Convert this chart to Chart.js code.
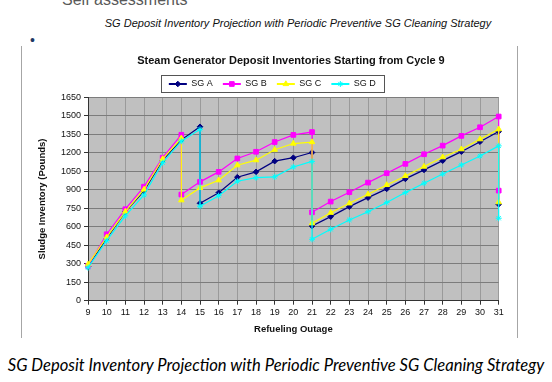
<html>
  <head>
    <script src="https://cdnjs.cloudflare.com/ajax/libs/Chart.js/4.4.0/chart.umd.min.js"></script>
  </head>
  <body>
    <div id="top-text">Self assessments</div>
    <div id="subtitle">SG Deposit Inventory Projection with Periodic Preventive SG Cleaning Strategy</div>
    <div id="bullet">&#8226;</div>
    <div id="frame">
      <canvas id="chart" width="495" height="292"></canvas>
      <div id="chart-title">Steam Generator Deposit Inventories Starting from Cycle 9</div>
    </div>
    <div id="caption">SG Deposit Inventory Projection with Periodic Preventive SG Cleaning Strategy</div>
    <script>
      // refueling outages; a repeated outage is the drop after a cleaning
      const outagesAD = [9, 10, 11, 12, 13, 14, 15, 15, 16, 17, 18, 19, 20, 21, 21, 22, 23, 24, 25, 26, 27, 28, 29, 30, 31, 31];
      const outagesBC = [9, 10, 11, 12, 13, 14, 14, 15, 16, 17, 18, 19, 20, 21, 21, 22, 23, 24, 25, 26, 27, 28, 29, 30, 31, 31];

      const sgA = [278, 505, 720, 890, 1140, 1305, 1411, 790, 876, 1002, 1045, 1132, 1160, 1202, 606, 682, 763, 836, 907, 988, 1061, 1136, 1209, 1290, 1372, 782];
      const sgB = [282, 539, 742, 925, 1160, 1346, 861, 964, 1045, 1154, 1208, 1287, 1345, 1368, 717, 804, 880, 958, 1034, 1110, 1188, 1258, 1337, 1407, 1494, 893];
      const sgC = [295, 515, 723, 902, 1150, 1318, 815, 915, 977, 1099, 1140, 1225, 1275, 1287, 628, 714, 790, 863, 939, 1012, 1088, 1164, 1229, 1310, 1391, 799];
      const sgD = [268, 487, 688, 858, 1120, 1294, 1390, 766, 852, 969, 998, 1005, 1085, 1130, 498, 579, 655, 722, 796, 877, 953, 1028, 1101, 1174, 1256, 669];

      const LEGEND_SHIFT = 12;

      function points(xs, ys) {
        return xs.map(function(x, i) {
          return {x: x, y: ys[i]};
        });
      }

      const plotBackground = {
        id: 'plotBackground',
        beforeDraw(chart) {
          const a = chart.chartArea;
          const ctx = chart.ctx;
          ctx.save();
          ctx.fillStyle = '#c0c0c0';
          ctx.fillRect(a.left, a.top, a.right - a.left, a.bottom - a.top);
          ctx.restore();
        }
      };

      // excel-style legend: nudged right, frame round the items, marker on each line
      const legendFrame = {
        id: 'legendFrame',
        afterUpdate(chart) {
          const lg = chart.legend;
          lg.left += LEGEND_SHIFT;
          lg.right += LEGEND_SHIFT;
          lg.legendHitBoxes.forEach(function(b) { b.left += LEGEND_SHIFT; });
        },
        afterDraw(chart) {
          const boxes = chart.legend.legendHitBoxes;
          const items = chart.legend.legendItems;
          const ctx = chart.ctx;
          const left = Math.min.apply(null, boxes.map(b => b.left)) - 8;
          const right = Math.max.apply(null, boxes.map(b => b.left + b.width)) + 8;
          ctx.save();
          ctx.strokeStyle = '#555';
          ctx.lineWidth = 1;
          ctx.strokeRect(Math.round(left) + 0.5, 29.5, Math.round(right - left), 17);
          if (Chart.helpers && Chart.helpers.drawPoint) {
            boxes.forEach(function(b, i) {
              const ds = chart.data.datasets[items[i].datasetIndex];
              ctx.fillStyle = ds.backgroundColor;
              ctx.strokeStyle = ds.borderColor;
              ctx.lineWidth = 1;
              Chart.helpers.drawPoint(ctx, {pointStyle: ds.pointStyle, radius: ds.pointRadius, borderWidth: 1, rotation: 0},
                b.left + 9, b.top + b.height / 2);
            });
          }
          ctx.restore();
        }
      };

      Chart.defaults.font.family = "'Liberation Sans', Arial, sans-serif";
      Chart.defaults.font.size = 9;
      Chart.defaults.color = '#111';

      function series(label, data, color, style, radius, order) {
        return {
          label: label,
          data: data,
          order: order,
          clip: false,
          borderColor: color,
          backgroundColor: color,
          borderWidth: 1.2,
          pointStyle: style,
          pointRadius: radius,
          pointBorderWidth: 1,
          tension: 0,
          fill: false
        };
      }

      new Chart('chart', {
        type: 'line',
        data: {
          datasets: [
            series('SG A', points(outagesAD, sgA), '#000080', 'rectRot', 2.8, 4),
            series('SG B', points(outagesBC, sgB), '#ff00ff', 'rect', 3.3, 3),
            series('SG C', points(outagesBC, sgC), '#ffff00', 'triangle', 3.2, 2),
            series('SG D', points(outagesAD, sgD), '#00ffff', 'star', 3, 1)
          ]
        },
        options: {
          responsive: false,
          animation: false,
          layout: {padding: {top: 23.5, right: 18.3, bottom: 0, left: 0}},
          plugins: {
            tooltip: {enabled: false},
            legend: {
              position: 'top',
              maxHeight: 27.8,
              labels: {
                boxWidth: 18,
                boxHeight: 2,
                padding: 10,
                color: '#111',
                font: {size: 9},
                sort: function(a, b) { return a.datasetIndex - b.datasetIndex; },
                generateLabels(chart) {
                  return Chart.defaults.plugins.legend.labels.generateLabels(chart).map(function(l) {
                    l.lineWidth = 0;
                    return l;
                  });
                }
              }
            }
          },
          scales: {
            x: {
              type: 'linear',
              min: 9,
              max: 31,
              afterFit(scale) { scale.height = 37.3; },
              ticks: {stepSize: 1, autoSkip: false, maxRotation: 0, padding: 2},
              grid: {color: '#9a9a9a', tickLength: 4, tickColor: '#333'},
              border: {color: '#333'},
              title: {
                display: true,
                text: 'Refueling Outage',
                font: {size: 9.5, weight: 'bold'},
                padding: {top: 0, bottom: 3.3}
              }
            },
            y: {
              min: 0,
              max: 1650,
              afterFit(scale) { scale.width = 66; },
              ticks: {stepSize: 150, padding: 3, format: {useGrouping: false}},
              grid: {color: '#7c7c7c', tickLength: 4, tickColor: '#333'},
              border: {color: '#333'},
              title: {
                display: true,
                text: 'Sludge Inventory (Pounds)',
                font: {size: 9.5, weight: 'bold'},
                padding: {top: 14.3, bottom: 0}
              }
            }
          }
        },
        plugins: [plotBackground, legendFrame]
      });
    </script>
  </body>
  <style>
    body {
      margin: 0;
      width: 552px;
      height: 382px;
      overflow: hidden;
      background: #fff;
      position: relative;
      font-family: 'Liberation Sans', Arial, sans-serif;
    }
    #top-text {
      position: absolute;
      left: 62px;
      top: -8px;
      font-size: 16px;
      line-height: 16px;
      color: #595959;
    }
    #subtitle {
      position: absolute;
      left: 0;
      width: 596px;
      top: 17px;
      text-align: center;
      font-size: 11px;
      font-style: italic;
      color: #111;
    }
    #bullet {
      position: absolute;
      left: 30px;
      top: 33px;
      font-size: 14px;
      line-height: 14px;
      color: #1f3864;
      height: 9px;
      overflow: hidden;
    }
    #frame {
      position: absolute;
      left: 21px;
      top: 46px;
      width: 495px;
      height: 292px;
      border-left: 1.5px solid #a6a6a6;
      border-right: 1.5px solid #a6a6a6;
    }
    #chart {
      position: absolute;
      left: 0;
      top: 0;
    }
    #chart-title {
      position: absolute;
      left: 0;
      width: 538px;
      top: 8px;
      text-align: center;
      font-size: 11px;
      font-weight: bold;
      color: #111;
    }
    #caption {
      position: absolute;
      left: 0;
      width: 552px;
      top: 355px;
      text-align: center;
      font-family: Lato, 'Open Sans', sans-serif;
      font-size: 16.6px;
      font-style: italic;
      color: #000;
    }
  </style>
</html>
